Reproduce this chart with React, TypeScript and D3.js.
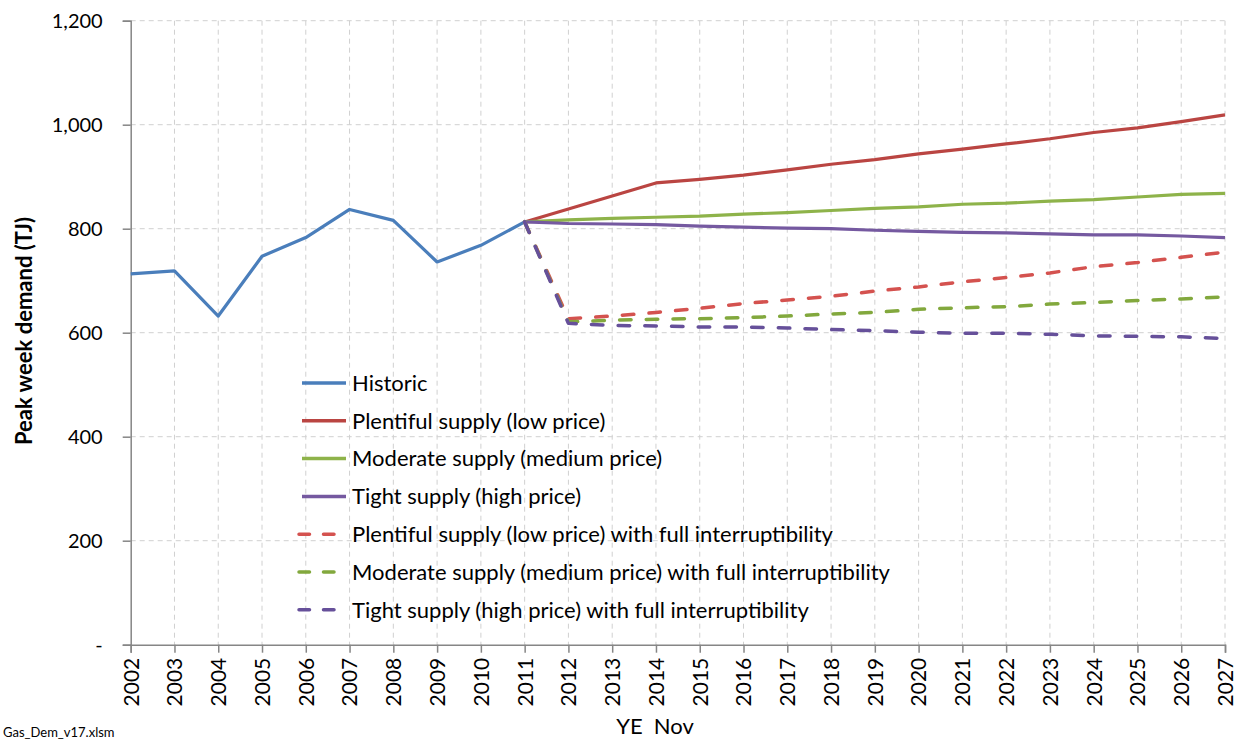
import React, { useEffect, useRef } from "react";
import * as d3 from "d3";

// years on the x axis
const years = d3.range(2002, 2028);

// historic peak week demand (TJ)
const historicYears = [2002, 2003, 2004, 2005, 2006, 2007, 2008, 2009, 2010, 2011];
const historic = [713, 719, 632, 747, 783, 837, 816, 736, 768, 813];

// projections 2011 - 2027
const projYears = d3.range(2011, 2028);
const plentiful = [813, 838, 863, 888, 895, 903, 913, 924, 933, 944, 953, 963, 973, 985, 994, 1006, 1019];
const moderate = [813, 817, 820, 822, 824, 828, 831, 835, 839, 842, 847, 849, 853, 856, 861, 866, 868];
const tight = [813, 810, 809, 808, 805, 803, 801, 800, 797, 795, 793, 792, 790, 788, 788, 786, 783];
const plentifulInt = [813, 627, 632, 639, 647, 656, 663, 670, 680, 688, 698, 706, 715, 727, 735, 745, 755];
const moderateInt = [813, 621, 624, 626, 627, 629, 632, 636, 639, 645, 648, 650, 655, 658, 662, 665, 669];
const tightInt = [813, 618, 614, 613, 611, 611, 609, 606, 604, 601, 599, 599, 597, 594, 593, 592, 589];

const yTicks = [0, 200, 400, 600, 800, 1000, 1200];

const seriesNames = [
  "Historic",
  "Plentiful supply (low price)",
  "Moderate supply (medium price)",
  "Tight supply (high price)",
  "Plentiful supply (low price) with full interruptibility",
  "Moderate supply (medium price) with full interruptibility",
  "Tight supply (high price) with full interruptibility",
];
const seriesColors = ["#4A7EBB", "#BA4542", "#8EB34A", "#7559A0", "#D4524F", "#82A83D", "#66509A"];

const FONT = "Lato, 'Open Sans', sans-serif";

export default function App() {
  const ref = useRef<SVGSVGElement>(null);

  useEffect(() => {
    const svg = d3.select(ref.current);
    svg.selectAll("*").remove();

    const x = d3.scaleLinear().domain([2002, 2027]).range([130.7, 1225]);
    const y = d3.scaleLinear().domain([0, 1200]).range([644.7, 20.7]);

    const grid = svg.append("g");
    // vertical grid
    grid.selectAll("line.v")
      .data(years.slice(1))
      .enter()
      .append("line")
      .attr("x1", d => x(d)).attr("x2", d => x(d))
      .attr("y1", y(1200)).attr("y2", y(0))
      .attr("stroke", "#d0d0d0").attr("stroke-width", 1)
      .attr("stroke-dasharray", "5,4");
    // horizontal grid
    grid.selectAll("line.h")
      .data(yTicks.slice(1))
      .enter()
      .append("line")
      .attr("x1", x(2002)).attr("x2", x(2027))
      .attr("y1", d => y(d)).attr("y2", d => y(d))
      .attr("stroke", "#d0d0d0").attr("stroke-width", 1)
      .attr("stroke-dasharray", "5,4");

    // y axis
    const yAxis = d3.axisLeft(y)
      .tickValues(yTicks)
      .tickSize(8)
      .tickPadding(20)
      .tickFormat(d => (+d === 0 ? "-" : d3.format(",")(+d)));
    const gy = svg.append("g").attr("transform", `translate(${x(2002)},0)`).call(yAxis);
    gy.select(".domain").attr("stroke", "#868686").attr("stroke-width", 1.5);
    gy.selectAll(".tick line").attr("stroke", "#868686").attr("stroke-width", 1.5);
    gy.selectAll(".tick text")
      .attr("font-family", FONT).attr("font-size", 20).attr("fill", "#000");

    // x axis
    const xAxis = d3.axisBottom(x)
      .tickValues(years)
      .tickSize(8)
      .tickFormat(d => String(d));
    const gx = svg.append("g").attr("transform", `translate(0,${y(0)})`).call(xAxis);
    gx.select(".domain").attr("stroke", "#868686").attr("stroke-width", 1.5);
    gx.selectAll(".tick line").attr("stroke", "#868686").attr("stroke-width", 1.5);
    gx.selectAll(".tick text")
      .attr("font-family", FONT).attr("font-size", 21).attr("fill", "#000")
      .attr("transform", "rotate(-90)")
      .attr("text-anchor", "end")
      .attr("x", -13).attr("y", 0).attr("dy", "0.35em");

    // lines
    const line = d3.line<[number, number]>().x(d => x(d[0])).y(d => y(d[1]));
    const seriesData: [number, number][][] = [
      historicYears.map((yr, i) => [yr, historic[i]]),
      projYears.map((yr, i) => [yr, plentiful[i]]),
      projYears.map((yr, i) => [yr, moderate[i]]),
      projYears.map((yr, i) => [yr, tight[i]]),
      projYears.map((yr, i) => [yr, plentifulInt[i]]),
      projYears.map((yr, i) => [yr, moderateInt[i]]),
      projYears.map((yr, i) => [yr, tightInt[i]]),
    ];
    seriesData.forEach((pts, i) => {
      const dashed = i >= 4;
      svg.append("path")
        .datum(pts)
        .attr("d", line)
        .attr("fill", "none")
        .attr("stroke", seriesColors[i])
        .attr("stroke-width", dashed ? 3.5 : 3.2)
        .attr("stroke-linejoin", "round")
        .attr("stroke-linecap", dashed ? "round" : "butt")
        .attr("stroke-dasharray", dashed ? "11.5,15.2" : null);
    });

    // legend
    const leg = svg.append("g");
    seriesNames.forEach((name, i) => {
      const ly = 383 + i * 37.8;
      const dashed = i >= 4;
      leg.append("line")
        .attr("x1", dashed ? 299 : 302).attr("x2", 346)
        .attr("y1", ly).attr("y2", ly)
        .attr("stroke", seriesColors[i])
        .attr("stroke-width", 3.5)
        .attr("stroke-linecap", dashed ? "round" : "butt")
        .attr("stroke-dasharray", dashed ? "10.5,14" : null);
      leg.append("text")
        .attr("x", 352).attr("y", ly).attr("dy", "0.35em")
        .attr("font-family", FONT).attr("font-size", 22).attr("fill", "#000")
        .text(name);
    });

    // axis titles
    svg.append("text")
      .attr("transform", `translate(32,331) rotate(-90)`)
      .attr("text-anchor", "middle")
      .attr("font-family", FONT).attr("font-size", 22).attr("font-weight", "bold")
      .text("Peak week demand (TJ)");
    svg.append("text")
      .attr("x", 655).attr("y", 734)
      .attr("text-anchor", "middle")
      .attr("font-family", FONT).attr("font-size", 22)
      .style("white-space", "pre")
      .text("YE  Nov");
    svg.append("text")
      .attr("x", 3).attr("y", 737)
      .attr("font-family", FONT).attr("font-size", 13)
      .text("Gas_Dem_v17.xlsm");
  }, []);

  return (
    <svg
      ref={ref}
      width={1243}
      height={740}
      style={{ position: "absolute", left: 0, top: 0, background: "#fff" }}
    />
  );
}
